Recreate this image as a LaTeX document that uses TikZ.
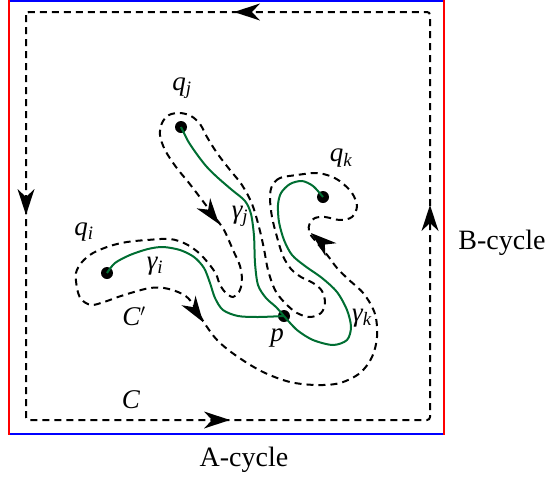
\documentclass[tikz,border=0pt]{standalone}
\usepackage{fontspec}
\setmainfont{Liberation Serif}
\definecolor{cutgreen}{RGB}{0,110,50}
\begin{document}
\begin{tikzpicture}[x=1pt,y=-1pt,
  contour/.style={line width=2pt, dash pattern=on 7pt off 5pt, black},
  cut/.style={line width=2pt, cutgreen},
  dot/.style={circle, fill=black, inner sep=0pt, minimum size=12pt},
  lab/.style={font=\fontsize{27}{30}\selectfont\itshape, inner sep=0pt},
  cyc/.style={font=\fontsize{28}{30}\selectfont, inner sep=0pt},
  arrowhd/.pic={\fill (0,0) -- (-26,8.5) -- (-18,0) -- (-26,-8.5) -- cycle;}
]
\useasboundingbox (0,0) rectangle (547,480);
% torus boundary
\draw[blue, line width=2.5pt] (9,1) -- (444,1) (9,434) -- (444,434);
\draw[red, line width=2.5pt] (9,0) -- (9,435) (444,0) -- (444,435);
% contour C
\draw[contour, rounded corners=3pt] (26,12) rectangle (430,420);
\pic[rotate=180] at (234,12) {arrowhd};
\pic[rotate=-90] at (26,215) {arrowhd};
\pic at (230,420) {arrowhd};
\pic[rotate=90] at (430,205) {arrowhd};
% points
\node[dot] (qj) at (181,127) {};
\node[dot] (qk) at (323,197) {};
\node[dot] (qi) at (107,273) {};
\node[dot] (p) at (284,316) {};
% cuts
\draw[cut] plot[smooth] coordinates {(qj.center) (188,141) (196,153) (206,166) (217,177) (232,190) (245,201) (251,214) (254,236) (255,263) (258,285) (266,298) (276,307) (p.center)};
\draw[cut] plot[smooth] coordinates {(qi.center) (115,263) (130,255) (148,249) (163,247) (180,250) (194,257) (204,268) (210,283) (215,298) (223,310) (238,316) (258,317) (p.center)};
\draw[cut] plot[smooth] coordinates {(p.center) (297,330) (313,340) (333,345) (347,340) (351,327) (347,310) (337,292) (322,278) (305,266) (292,255) (284,240) (279,222) (278,205) (281,193) (290,184) (302,181) (313,186) (qk.center)};
% contour C'
\draw[contour] plot[smooth cycle, tension=0.55] coordinates {
 (297,175) (280,178) (272,186) (270,198) (272,217) (277,237) (283,256) (291,269) (301,277) (313,283) (322,291) (325,303) (321,313) (310,317) (297,313) (285,303) (275,290) (268,270) (264,249) (259,227) (252,204) (242,185) (230,170) (217,153) (207,137) (200,124) (191,116) (180,113) (169,115) (162,123) (160,135) (165,150) (176,167) (189,183) (202,200) (214,216) (224,230) (233,250) (240,266) (242,281) (239,292) (233,297) (226,293) (220,285) (216,274) (209,264) (199,253) (186,244) (170,239) (147,240) (127,242) (110,246) (93,253) (82,262) (76,273) (77,288) (81,299) (91,305) (104,302) (118,297) (134,292) (150,288) (164,288) (178,292) (188,298) (196,309) (205,324) (218,341) (238,357) (263,372) (290,382) (317,385) (340,383) (360,373) (372,357) (377,337) (375,314) (364,294) (348,279) (337,268) (328,256) (318,244) (309,232) (310,223) (315,218) (325,217) (340,220) (352,217) (357,206) (352,193) (341,182) (330,176) (316,173)};
\pic[rotate=-53] at (219,224) {arrowhd};
\pic[rotate=-56] at (203,322) {arrowhd};
\pic[rotate=140] at (311,233) {arrowhd};
% labels
\node[lab] (lqj) at (182,88) {q\textsubscript{j}};
\node[lab] (lqk) at (341,158) {q\textsubscript{k}};
\node[lab] (lqi) at (84,232) {q\textsubscript{i}};
\node[lab] (lgj) at (240,216) {γ\textsubscript{j}};
\node[lab] (lgi) at (155,266) {γ\textsubscript{i}};
\node[lab] (lgk) at (362,318) {γ\textsubscript{k}};
\node[lab] (lp) at (277,338) {p};
\node[lab] (lcp) at (134,316) {C$'$};
\node[lab] (lc) at (131,400) {C};
\node[cyc] (bcyc) at (502,243) {B-cycle};
\node[cyc] (acyc) at (244,460) {A-cycle};
\end{tikzpicture}
\end{document}
